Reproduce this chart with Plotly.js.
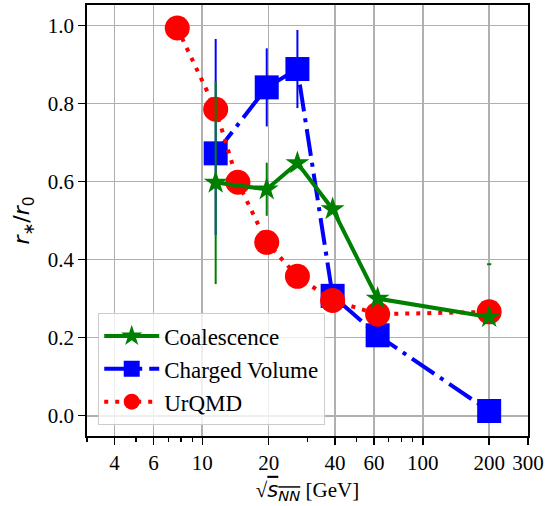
<!DOCTYPE html>
<html>
<head>
<meta charset="utf-8">
<script src="https://cdn.plot.ly/plotly-3.0.1.min.js"></script>
<style>
  html, body { margin: 0; padding: 0; background: #ffffff; }
  #chart { width: 550px; height: 506px; }
</style>
</head>
<body>
<div id="chart"></div>
<script>
// Collision energies sqrt(s_NN) in GeV
const urqmdEnergy = [7.7, 11.5, 14.5, 19.6, 27, 39, 62.4, 200];
const urqmdRatio  = [0.993, 0.785, 0.598, 0.444, 0.357, 0.295, 0.260, 0.266];

const chargedEnergy   = [11.5, 19.6, 27, 39, 62.4, 200];
const chargedRatio    = [0.672, 0.841, 0.888, 0.307, 0.206, 0.012];
const chargedErrPlus  = [0.293, 0.100, 0.100, 0, 0, 0];
const chargedErrMinus = [0.209, 0.100, 0.100, 0, 0, 0];

const coalEnergy = [11.5, 19.6, 27, 39, 62.4, 200];
const coalRatio  = [0.597, 0.580, 0.647, 0.529, 0.300, 0.253];
const coalErr    = [0.260, 0.068, 0, 0, 0, 0];

// stray error-bar end left above the 200 GeV coalescence point
const coalStubEnergy = [200];
const coalStubRatio  = [0.388];

const xTickVals   = [4, 6, 10, 20, 40, 60, 100, 200, 300];
const xTickText   = ['4', '6', '10', '20', '40', '60', '100', '200', '300'];
const xMinorVals  = [3, 5, 7, 8, 9, 30, 50, 70, 80, 90];
const yTickVals   = [0, 0.2, 0.4, 0.6, 0.8, 1.0];

const LW = 4;
const SERIF = 'Liberation Serif';

const traces = [
  {
    name: 'Charged Volume',
    x: chargedEnergy, y: chargedRatio,
    mode: 'lines+markers',
    legendrank: 2,
    line: { color: '#0000ff', width: LW, dash: '27px,7px,4px,7px' },
    marker: { symbol: 'square', size: 24, color: '#0000ff' },
    error_y: { type: 'data', symmetric: false, array: chargedErrPlus, arrayminus: chargedErrMinus,
               color: '#0000ff', thickness: 2, width: 0 }
  },
  {
    name: 'UrQMD',
    x: urqmdEnergy, y: urqmdRatio,
    mode: 'lines+markers',
    legendrank: 3,
    line: { color: '#ff0000', width: LW, dash: '4px,7px' },
    marker: { symbol: 'circle', size: 25, color: '#ff0000' }
  },
  {
    name: 'Coalescence',
    x: coalEnergy, y: coalRatio,
    mode: 'lines+markers',
    legendrank: 1,
    line: { color: '#008000', width: LW },
    marker: { symbol: 'star', size: 18, color: '#008000' },
    error_y: { type: 'data', array: coalErr, color: '#008000', thickness: 2, width: 0 }
  },
  {
    x: coalStubEnergy, y: coalStubRatio,
    mode: 'markers',
    showlegend: false,
    hoverinfo: 'skip',
    marker: { symbol: 'line-ew', size: 3, color: '#008000', line: { color: '#008000', width: 2 } }
  }
];

const axisCommon = {
  showline: true, linecolor: '#000000', linewidth: 1.8, mirror: true,
  ticks: 'outside', ticklen: 7, tickwidth: 1.5, tickcolor: '#000000',
  showgrid: true, gridcolor: '#b0b0b0', gridwidth: 1.6,
  zeroline: false,
  tickfont: { family: SERIF, size: 21, color: '#000000' }
};

const layout = {
  width: 550, height: 506,
  margin: { l: 87, r: 22, t: 5, b: 70 },
  paper_bgcolor: '#ffffff', plot_bgcolor: '#ffffff',
  font: { family: SERIF, size: 21, color: '#000000' },
  showlegend: true,
  xaxis: Object.assign({}, axisCommon, {
    type: 'log',
    range: [Math.log10(3), Math.log10(300)],
    tickmode: 'array', tickvals: xTickVals, ticktext: xTickText,
    minor: { tickmode: 'array', tickvals: xMinorVals, ticks: 'outside', ticklen: 4,
             tickwidth: 1.2, tickcolor: '#000000', showgrid: false },
    title: {
      text: "√<span style='text-decoration:overline;font-family:DejaVu Sans'><i>s</i><sub><i>NN</i></sub></span> [GeV]",
      font: { family: SERIF, size: 21, color: '#000000' },
      standoff: 8
    }
  }),
  yaxis: Object.assign({}, axisCommon, {
    range: [-0.052, 1.052],
    tickmode: 'array', tickvals: yTickVals, tickformat: '.1f',
    title: {
      text: '<i>r</i><sub>∗</sub>/<i>r</i><sub>0</sub>',
      font: { family: 'DejaVu Sans', size: 22, color: '#000000' },
      standoff: 12
    }
  }),
  legend: {
    x: 0.025, y: 0.025, xanchor: 'left', yanchor: 'bottom',
    bgcolor: 'rgba(255,255,255,0.8)', bordercolor: '#cccccc', borderwidth: 1.2,
    font: { family: SERIF, size: 23, color: '#000000' },
    itemwidth: 55,
    tracegroupgap: 0
  }
};

Plotly.newPlot('chart', traces, layout, { displayModeBar: false, staticPlot: true });
</script>
</body>
</html>
